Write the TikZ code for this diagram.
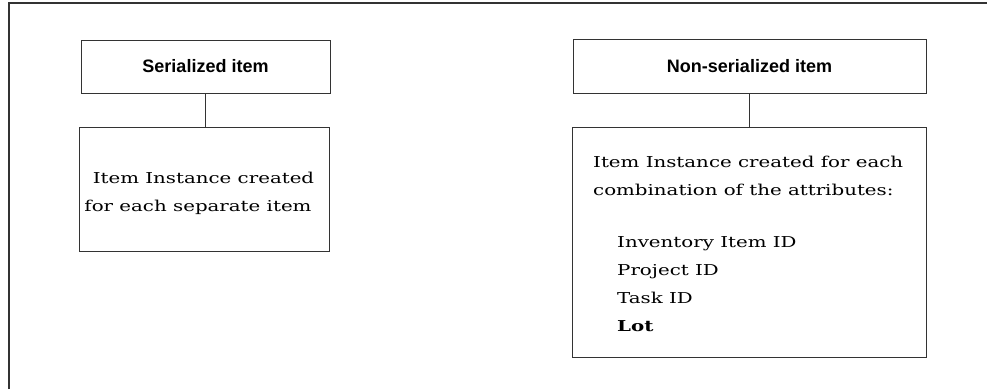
\documentclass[tikz,border=0pt]{standalone}
\usepackage{fontspec}
\newfontfamily\bodyfont[FakeStretch=1.32]{DejaVu Serif}
\newfontfamily\headfont{Liberation Sans}
\begin{document}
\begin{tikzpicture}[x=1pt,y=-1pt,
  framel/.style={draw=black!80,line width=1.2pt},
  boxst/.style={draw=black!80,line width=1pt,rectangle,inner sep=0pt,fill=white},
  headst/.style={font=\headfont\bfseries\fontsize{18}{20}\selectfont},
  txt/.style={font=\bodyfont\fontsize{15}{28}\selectfont,inner sep=0pt},
  conn/.style={draw=black!80,line width=1pt}]
\useasboundingbox (0,0) rectangle (987,389);
\coordinate (fb) at (9,389);
\coordinate (fc) at (9,3);
\coordinate (fr) at (987,3);
\draw[framel] (fb) -- (fc) -- (fr);
% left column
\node[boxst,headst,minimum width=249pt,minimum height=53pt] (sh) at (205.5,66.5) {Serialized item};
\node[boxst,minimum width=250pt,minimum height=124pt] (sb) at (204,189) {};
\draw[conn] (sh.south) -- (sh.south |- sb.north);
\node[txt,anchor=base] (s1) at (203.5,183) {Item Instance created};
\node[txt,anchor=base] (s2) at (198,211) {for each separate item};
% right column
\node[boxst,headst,minimum width=353pt,minimum height=54pt] (nh) at (749.5,66) {Non-serialized item};
\node[boxst,minimum width=354pt,minimum height=230pt] (nb) at (749,242) {};
\draw[conn] (nh.south) -- (nh.south |- nb.north);
\node[txt,anchor=base west] (n1) at (593,167) {Item Instance created for each};
\node[txt,anchor=base west] (n2) at (593,195) {combination of the attributes:};
\node[txt,anchor=base west] (n3) at (617,247) {Inventory Item ID};
\node[txt,anchor=base west] (n4) at (617,275) {Project ID};
\node[txt,anchor=base west] (n5) at (617,303) {Task ID};
\node[txt,anchor=base west,font=\bodyfont\bfseries\fontsize{15}{28}\selectfont] (n6) at (617,331) {Lot};
\end{tikzpicture}
\end{document}
